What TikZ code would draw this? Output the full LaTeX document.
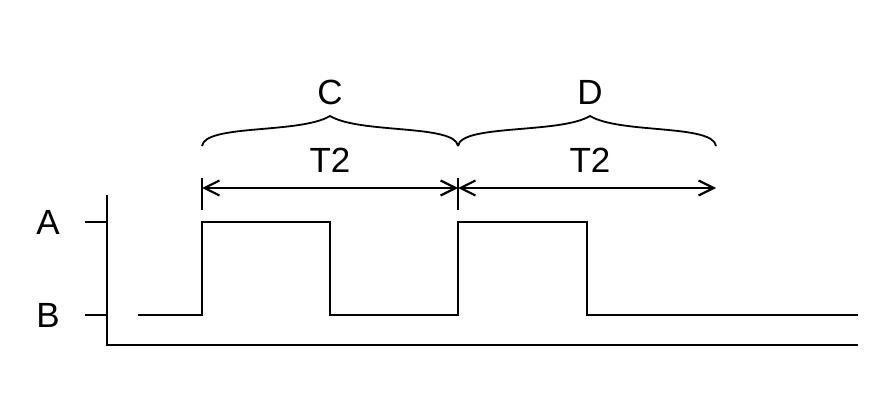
\documentclass[tikz,border=0pt]{standalone}
\usepackage{fontspec}
\setmainfont{Liberation Sans}
\usetikzlibrary{arrows.meta}
\tikzset{
  sig/.style={line width=2.8pt},
  dimline/.style={line width=2.2pt,{Straight Barb[length=15pt,width=15pt]}-{Straight Barb[length=15pt,width=15pt]}},
  bracket/.style={line width=1.8pt},
  lbl/.style={font=\fontsize{35}{35}\selectfont,inner sep=0pt}
}
\newcommand{\curlybrace}[3]{% left x, tip x, right x
  \draw[bracket] (#1,146) .. controls (#1+3,124) and (#2-30,134) .. (#2,116)
    .. controls (#2+30,134) and (#3-3,124) .. (#3,146);}
\begin{document}
\begin{tikzpicture}[x=1pt,y=-1pt]
\useasboundingbox (0,0) rectangle (895,420);
% axes
\coordinate (top) at (107,195);
\coordinate (orig) at (107,345);
\coordinate (xend) at (858,345);
\draw[sig] (top) -- (orig) -- (xend);
% levels
\draw[sig] (85,222) -- (107,222);
\draw[sig] (85,315) -- (107,315);
\node[lbl] (a) at (48,222) {A};
\node[lbl] (b) at (48,315) {B};
% signal
\draw[sig] (138,315) -- (202,315) -- (202,222) -- (330,222) -- (330,315)
  -- (458,315) -- (458,222) -- (587,222) -- (587,315) -- (858,315);
% period marks
\coordinate (p1) at (202,188);
\coordinate (p2) at (458,188);
\coordinate (p3) at (716,188);
\draw[line width=2.2pt] (202,178) -- (202,210);
\draw[line width=2.2pt] (458,178) -- (458,210);
\draw[dimline] (p1) -- (p2);
\draw[dimline] (p2) -- (p3);
\node[lbl] (t1) at (330,160) {T2};
\node[lbl] (t2) at (590,160) {T2};
% braces
\curlybrace{202}{330}{458}
\curlybrace{458}{590}{716}
\node[lbl] (c) at (330,92) {C};
\node[lbl] (d) at (590,92) {D};
\end{tikzpicture}
\end{document}
